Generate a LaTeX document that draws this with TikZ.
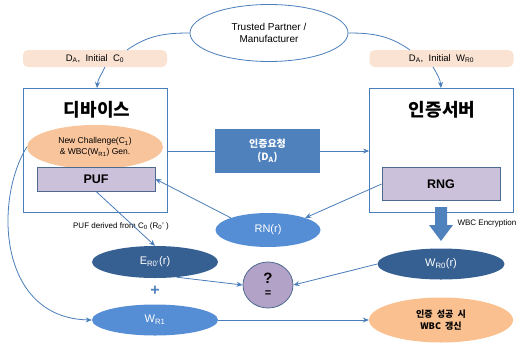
\documentclass[tikz,border=0pt]{standalone}
\usepackage{fontspec}
\setmainfont{Liberation Sans}
\newfontfamily\kr{Noto Sans CJK KR}
\usetikzlibrary{shapes.geometric,arrows.meta,calc}
\definecolor{lnblue}{HTML}{4A7EBB}
\definecolor{peach}{HTML}{FBE3D3}
\definecolor{orng}{HTML}{F8C49C}
\definecolor{orng2}{HTML}{FAC090}
\definecolor{dkblue}{HTML}{376092}
\definecolor{mdblue}{HTML}{558ED5}
\definecolor{boxblue}{HTML}{4F81BD}
\definecolor{lav}{HTML}{CCC1DA}
\definecolor{lavdk}{HTML}{B3A2C7}
\definecolor{bord}{HTML}{4F6A8F}
\newcommand\sbs[1]{\textsubscript{#1}}
\tikzset{
  conn/.style={draw=lnblue, line width=0.8pt},
  arr/.style={conn, -{Stealth[length=6pt,width=5pt]}},
  lbl/.style={rectangle, rounded corners=5pt, fill=peach, minimum width=144pt, minimum height=17pt, inner sep=0pt, font=\fontsize{9.5}{10}\selectfont},
  bigbox/.style={rectangle, draw=lnblue, line width=0.8pt, fill=white, minimum width=144pt, minimum height=124pt, inner sep=0pt},
  title/.style={font=\kr\bfseries\fontsize{18}{19}\selectfont},
  unit/.style={rectangle, draw=bord, line width=0.8pt, fill=lav, inner sep=0pt, font=\bfseries\fontsize{12.5}{13}\selectfont},
  ell/.style={ellipse, inner sep=0pt, align=center},
}
\begin{document}
\begin{tikzpicture}[x=1pt,y={(0pt,-1pt)}]
\useasboundingbox (0,0) rectangle (526,345);
% trusted partner
\node[ell, draw=lnblue, line width=0.8pt, fill=white, minimum width=158pt, minimum height=57pt, font=\fontsize{10}{12}\selectfont] (tp) at (269,33) {Trusted Partner /\\Manufacturer};
\node[lbl] (lblL) at (95,58.5) {D\sbs{A},\ \ Initial\ \ C\sbs{0}};
\node[lbl] (lblR) at (441.5,58.5) {D\sbs{A},\ \ Initial\ \ W\sbs{R0}};
\coordinate (lLt) at (127,50);
\coordinate (lLb) at (105,67);
\coordinate (lRt) at (410,50);
\coordinate (lRb) at (433,67);
% boxes
\node[bigbox] (dev) at (95,150) {};
\node[bigbox] (srv) at (441.5,150) {};
\node[title] (devt) at (97,110) {디바이스};
\node[title] (srvt) at (442,110) {인증서버};
\coordinate (devtop) at (97,88);
\coordinate (srvtop) at (441,88);
\node[ell, fill=orng, minimum width=136pt, minimum height=44pt, font=\fontsize{8.5}{11}\selectfont] (gen) at (95,147) {New Challenge(C\sbs{1})\\\& WBC(W\sbs{R1}) Gen.};
\node[unit, minimum width=118pt, minimum height=24pt] (puf) at (96,179) {PUF};
\node[unit, minimum width=118pt, minimum height=33pt] (rng) at (441,184) {RNG};
\node[rectangle, fill=boxblue, minimum width=105pt, minimum height=44pt, inner sep=0pt, align=center, text=white, font=\kr\bfseries\fontsize{10}{13}\selectfont] (req) at (267.5,151) {인증요청\\(D\sbs{A})};
\node[ell, fill=mdblue, minimum width=105pt, minimum height=34pt, text=white, font=\fontsize{11}{12}\selectfont] (rn) at (268,230) {RN(r)};
\node[ell, fill=dkblue, minimum width=126pt, minimum height=32pt, text=white, font=\fontsize{11}{12}\selectfont] (er) at (155,262) {E\sbs{R0’}(r)};
\node[ell, fill=mdblue, minimum width=126pt, minimum height=31pt, text=white, font=\fontsize{11}{12}\selectfont] (wr1) at (155,320) {W\sbs{R1}};
\node[ell, fill=dkblue, minimum width=127pt, minimum height=31pt, text=white, font=\fontsize{11}{12}\selectfont] (wr0) at (441,264) {W\sbs{R0}(r)};
\node[ell, draw=bord, line width=0.8pt, fill=lavdk, minimum width=50pt, minimum height=46pt, font=\bfseries\fontsize{15}{11}\selectfont] (q) at (268,285) {?\\[2.5pt]{\fontsize{11}{11}\selectfont =}};
\node[ell, fill=orng2, minimum width=144pt, minimum height=45pt, font=\kr\bfseries\fontsize{9}{12}\selectfont] (res) at (441,320) {인증\ \ 성공\ \ 시\\WBC\ \ 갱신};
\node[text=boxblue, font=\bfseries\fontsize{16}{16}\selectfont] (plus) at (155,291) {+};
\node[font=\fontsize{8}{9}\selectfont] (pd) at (121,226) {PUF derived from C\sbs{0} (R\sbs{0}’ )};
\node[font=\fontsize{8}{9}\selectfont, anchor=west] (enc) at (454,223) {WBC Encryption};
% block arrow
\fill[boxblue] (435,207) -- (447,207) -- (447,225) -- (453,225) -- (441,241) -- (429,225) -- (435,225) -- cycle;
% connectors
\draw[conn] (tp.west) to[out=180,in=35] (lLt);
\draw[arr] (lLb) to[out=-115,in=85] (devtop);
\draw[conn] (tp.east) to[out=0,in=145] (lRt);
\draw[arr] (lRb) to[out=-60,in=95] (srvtop);
\draw[conn] (dev.east |- req.west) -- (req.west);
\draw[arr] (req.east) -- (srv.west |- req.east);
\draw[arr] (rng.west) -- (rn.north east);
\draw[arr] (rn.north west) -- (puf.east);
\draw[arr] (puf.south) -- (er.north);
\draw[arr] (er.-35) -- (q.west);
\draw[arr] (wr0.west) -- (q.east);
\draw[arr] (wr1.east) -- (res.west);
\draw[arr] (gen.west) .. controls (-6,200) and (-2,318) .. (wr1.west);
\end{tikzpicture}
\end{document}
